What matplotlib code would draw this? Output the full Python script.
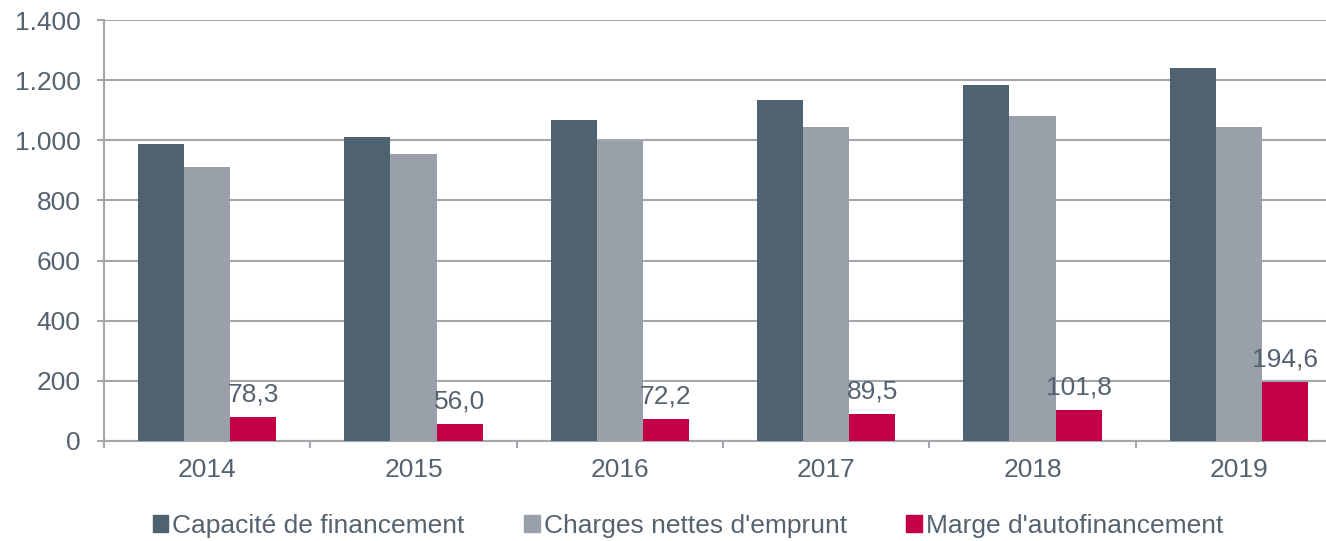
import matplotlib
matplotlib.use("Agg")
import matplotlib.pyplot as plt
import numpy as np
from matplotlib.patches import Patch

years = ["2014", "2015", "2016", "2017", "2018", "2019"]
capacite = [988, 1011, 1067, 1134, 1183, 1240]
charges = [910, 954, 996, 1044, 1081, 1044]
marge = [78.3, 56.0, 72.2, 89.5, 101.8, 194.6]
marge_labels = ["78,3", "56,0", "72,2", "89,5", "101,8", "194,6"]
series_names = ["Capacité de financement", "Charges nettes d'emprunt", "Marge d'autofinancement"]
yticks = [0, 200, 400, 600, 800, 1000, 1200, 1400]
ytick_labels = ["0", "200", "400", "600", "800", "1.000", "1.200", "1.400"]

c_dark = "#4f6270"
c_gray = "#9aa0aa"
c_red = "#c30045"
c_text = "#556270"
c_grid = "#a3a6aa"
fs = 19

plt.rcParams['font.family'] = ['Liberation Sans', 'DejaVu Sans']

fig = plt.figure(figsize=(13.26, 5.41), dpi=100)
ax = fig.add_axes([104/1326, 100/541, (1342-104)/1326, 421/541])

x = np.arange(len(years))
w = 0.223
ax.bar(x - w, capacite, w, color=c_dark, zorder=3)
ax.bar(x, charges, w, color=c_gray, zorder=3)
ax.bar(x + w, marge, w, color=c_red, zorder=3)

for xi, v, lab in zip(x, marge, marge_labels):
    ax.annotate(lab, (xi + w, v), xytext=(0, 11.5), textcoords="offset points",
                ha="center", va="baseline", fontsize=fs, color=c_text, zorder=4)

ax.set_xlim(-0.5, len(years) - 0.5)
ax.set_ylim(0, 1400)
ax.set_yticks(yticks)
ax.set_yticklabels(ytick_labels)
ax.set_xticks(x)
ax.set_xticklabels(years)
ax.set_xticks(np.arange(-0.5, len(years)), minor=True)
ax.tick_params(axis="x", which="major", length=0, pad=12, labelsize=fs, labelcolor=c_text)
ax.tick_params(axis="x", which="minor", length=5, width=1.5, color=c_grid, direction="out")
ax.tick_params(axis="y", length=5, width=1.5, color=c_grid, labelsize=fs, labelcolor=c_text, pad=12)
ax.yaxis.grid(True, color=c_grid, linewidth=1.5, zorder=0)
ax.set_axisbelow(True)
for s in ["top", "right"]:
    ax.spines[s].set_visible(False)
ax.spines["left"].set_color(c_grid)
ax.spines["left"].set_linewidth(1.5)
ax.spines["bottom"].set_color(c_grid)
ax.spines["bottom"].set_linewidth(1.5)

handles = [Patch(color=c) for c in (c_dark, c_gray, c_red)]
fig.legend(handles, series_names, loc="center", bbox_to_anchor=(688/1326, 1 - 526/541),
           ncol=3, frameon=False, fontsize=fs, labelcolor=c_text, borderpad=0,
           handlelength=0.6, handleheight=0.6, handletextpad=0.15, columnspacing=2.25)

fig.savefig("out.png", dpi=100)
